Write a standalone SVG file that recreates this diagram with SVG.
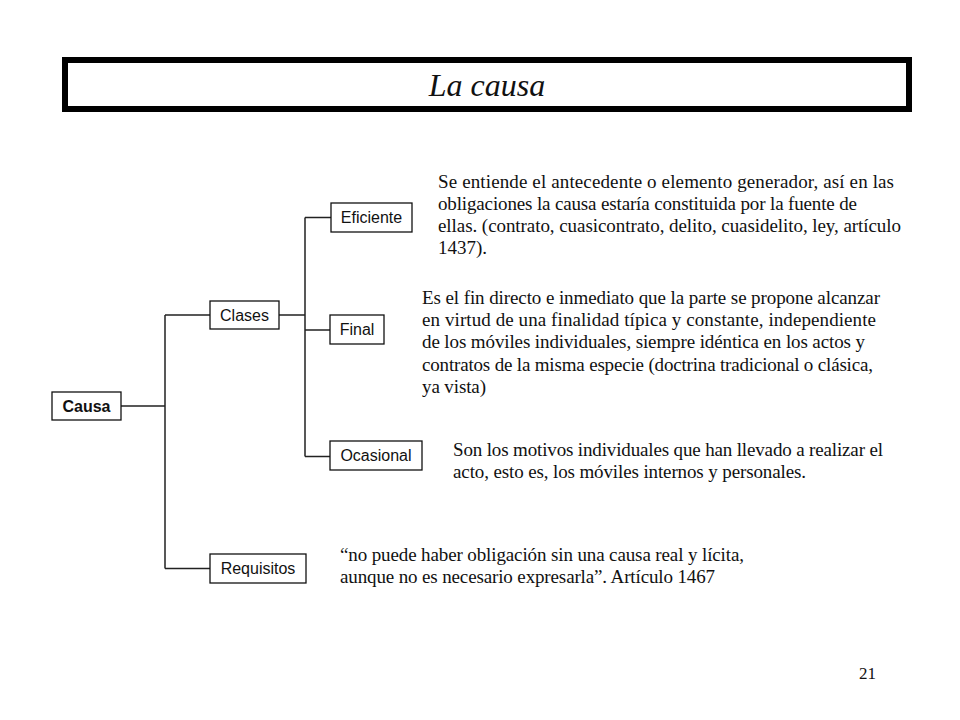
<svg xmlns="http://www.w3.org/2000/svg" width="960" height="720" viewBox="0 0 960 720">
<style>
.box{fill:#fff;stroke:#111;stroke-width:1.3}
.lbl{font-family:"Liberation Sans",Arial,sans-serif;font-size:16px;fill:#111;text-anchor:middle}
.conn{fill:none;stroke:#222;stroke-width:1.5}
.p{font-family:"Liberation Serif","Times New Roman",serif;font-size:19px;fill:#111}
</style>
<rect width="960" height="720" fill="#fff"/>
<g id="title">
<rect x="65" y="60" width="844" height="49" fill="#fff" stroke="#000" stroke-width="6"/>
<text x="487" y="96" font-family="'Liberation Serif','Times New Roman',serif" font-style="italic" font-size="32" text-anchor="middle" fill="#111">La causa</text>
</g>
<g id="connectors">
<path class="conn" d="M121 406H165M165 315V568.5M165 315H210M165 568.5H210"/>
<path class="conn" d="M279 315H305M305 217.5V456.5M305 217.5H331M305 330H330M305 456.5H330"/>
</g>
<g id="causa">
<rect class="box" x="52" y="392" width="69" height="28"/>
<text class="lbl" x="86.5" y="411.7" font-weight="bold">Causa</text>
</g>
<g id="clases">
<rect class="box" x="210" y="301" width="69" height="28"/>
<text class="lbl" x="244.5" y="320.7">Clases</text>
</g>
<g id="requisitos">
<rect class="box" x="210" y="554" width="96" height="29"/>
<text class="lbl" x="258" y="574.2">Requisitos</text>
</g>
<g id="eficiente">
<rect class="box" x="331" y="203" width="81" height="29"/>
<text class="lbl" x="371.5" y="223.2">Eficiente</text>
</g>
<g id="final">
<rect class="box" x="330" y="315" width="54" height="29"/>
<text class="lbl" x="357" y="335.2">Final</text>
</g>
<g id="ocasional">
<rect class="box" x="330" y="441" width="92" height="29"/>
<text class="lbl" x="376" y="461.2">Ocasional</text>
</g>
<g id="text-eficiente">
<text class="p" x="438" y="188" textLength="456" lengthAdjust="spacing">Se entiende el antecedente o elemento generador, así en las</text>
<text class="p" x="438" y="210" textLength="419" lengthAdjust="spacing">obligaciones la causa estaría constituida por la fuente de</text>
<text class="p" x="438" y="232" textLength="463" lengthAdjust="spacing">ellas. (contrato, cuasicontrato, delito, cuasidelito, ley, artículo</text>
<text class="p" x="438" y="254" textLength="49" lengthAdjust="spacing">1437).</text>
</g>
<g id="text-final">
<text class="p" x="422" y="304" textLength="458" lengthAdjust="spacing">Es el fin directo e inmediato que la parte se propone alcanzar</text>
<text class="p" x="422" y="326" textLength="454" lengthAdjust="spacing">en virtud de una finalidad típica y constante, independiente</text>
<text class="p" x="422" y="348" textLength="443" lengthAdjust="spacing">de los móviles individuales, siempre idéntica en los actos y</text>
<text class="p" x="422" y="371" textLength="451" lengthAdjust="spacing">contratos de la misma especie (doctrina tradicional o clásica,</text>
<text class="p" x="422" y="393" textLength="64" lengthAdjust="spacing">ya vista)</text>
</g>
<g id="text-ocasional">
<text class="p" x="453" y="456" textLength="430" lengthAdjust="spacing">Son los motivos individuales que han llevado a realizar el</text>
<text class="p" x="453" y="478" textLength="353" lengthAdjust="spacing">acto, esto es, los móviles internos y personales.</text>
</g>
<g id="text-requisitos">
<text class="p" x="340" y="561" textLength="404" lengthAdjust="spacing">“no puede haber obligación sin una causa real y lícita,</text>
<text class="p" x="340" y="583" textLength="375" lengthAdjust="spacing">aunque no es necesario expresarla”. Artículo 1467</text>
</g>
<g id="page-number">
<text x="859" y="679" font-family="'Liberation Serif','Times New Roman',serif" font-size="17" fill="#111">21</text>
</g>
</svg>
